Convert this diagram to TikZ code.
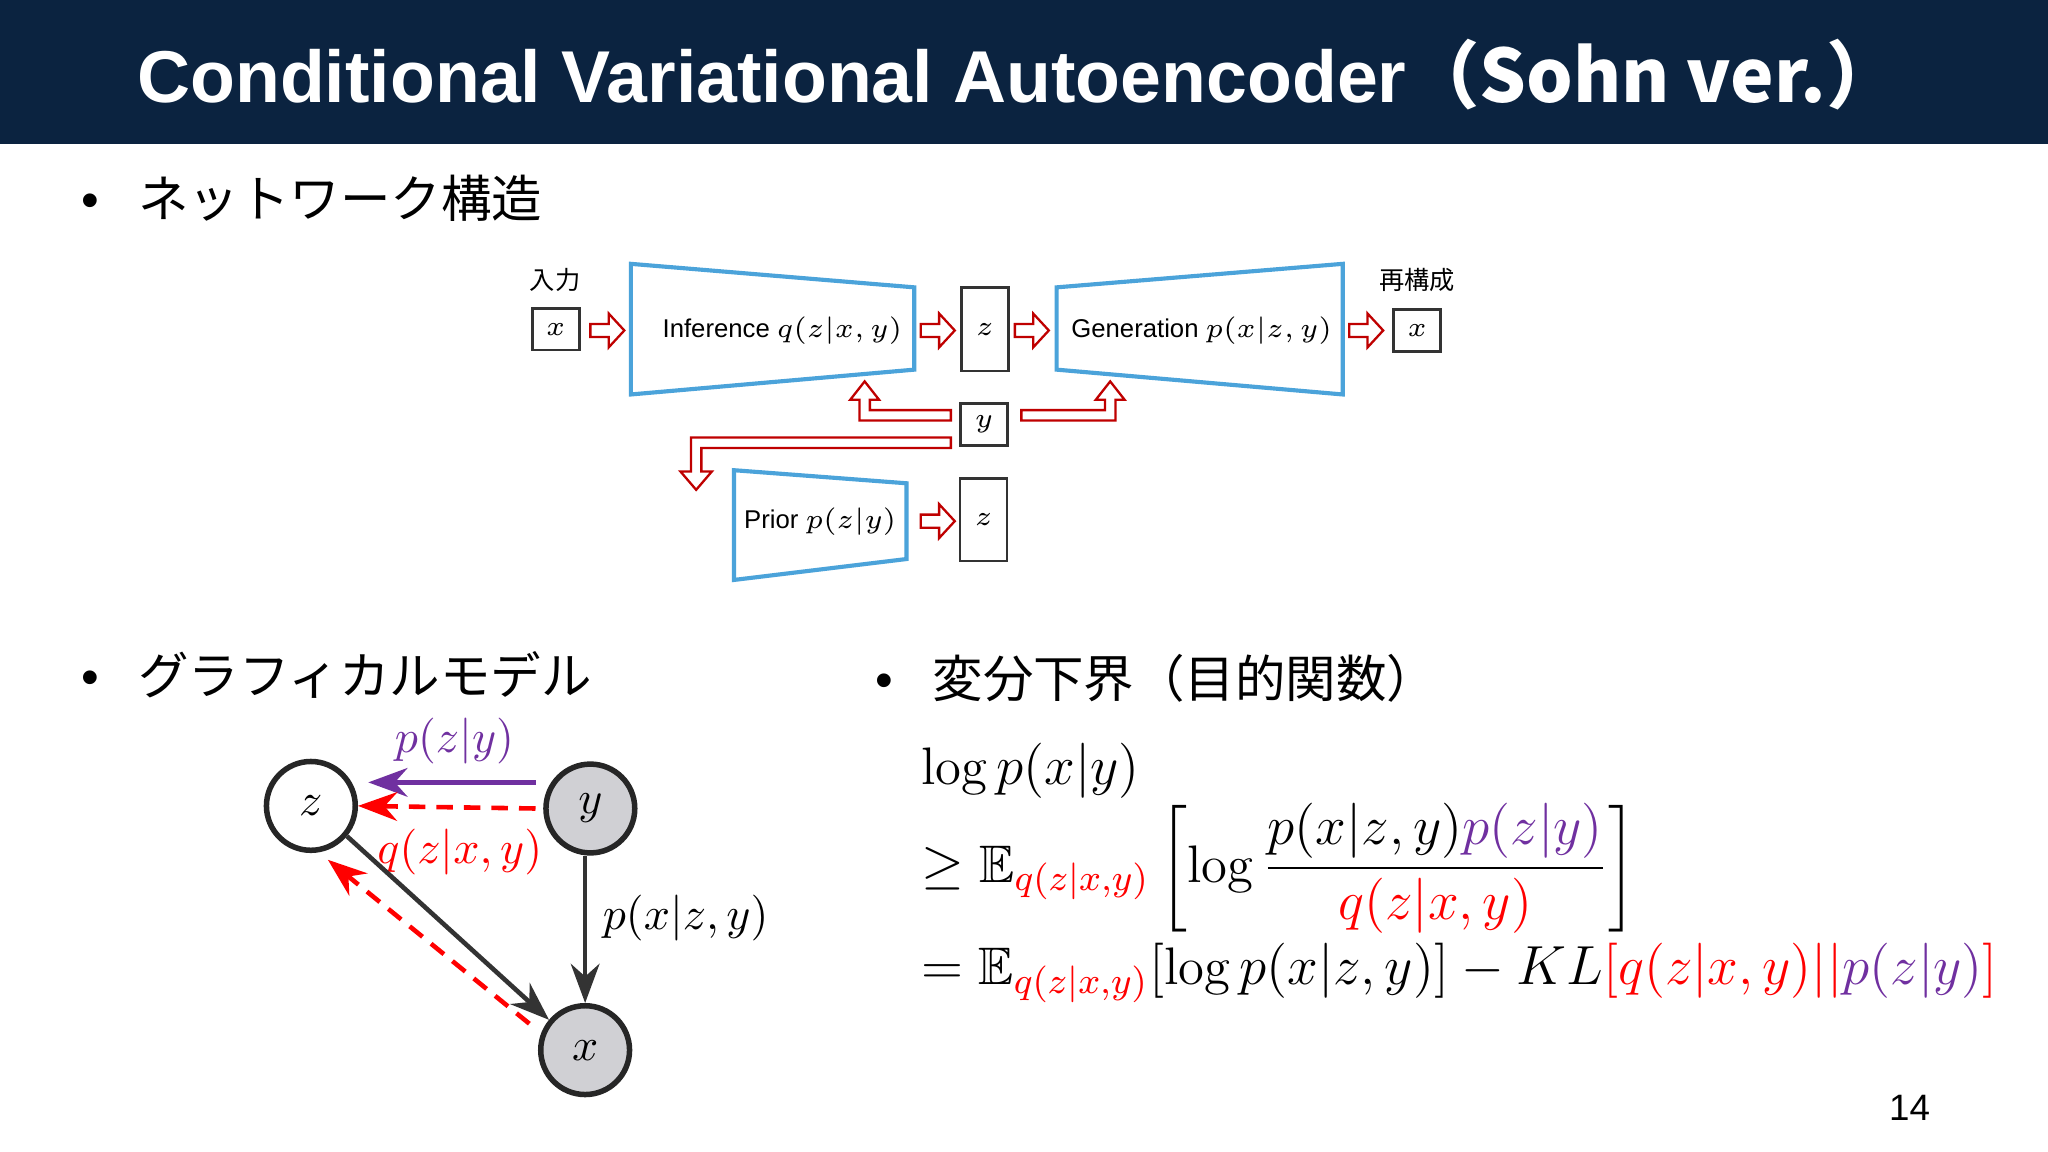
\documentclass[tikz,border=0pt]{standalone}
\usepackage{amsmath,amssymb}
\usepackage{fontspec}
\newfontfamily\sans{Liberation Sans}
\newfontfamily\jp{Noto Sans CJK JP}
\usetikzlibrary{arrows.meta,calc}
\definecolor{navy}{HTML}{0B2340}
\definecolor{pur}{HTML}{7030A0}
\definecolor{blu}{HTML}{4BA3DA}
\definecolor{gr}{HTML}{D0D0D4}
\tikzset{
 harr/.style={draw=red!75!black,fill=white,line width=0.5pt},
 trap/.style={draw=blu,line width=0.9pt},
 vbox/.style={draw=black!80,line width=0.6pt,minimum width=3.6mm,inner sep=0pt,font=\fontsize{6}{7}\selectfont},
 lbl/.style={font=\sans\fontsize{5.6}{7}\selectfont},
 circ/.style={circle,draw=black!85,line width=1.2pt,minimum size=6.8mm,inner sep=0pt,font=\fontsize{10}{12}\selectfont},
 ed/.style={-{Stealth[length=3mm,width=2.2mm]},line width=1pt},
 dsh/.style={dash pattern=on 3.6pt off 2.4pt},
}
\newcommand{\harrowat}[2]{\draw[harr] (#1-13,#2-5)--(#1+1,#2-5)--(#1+1,#2-13)--(#1+13,#2)--(#1+1,#2+13)--(#1+1,#2+5)--(#1-13,#2+5)--cycle;}
\begin{document}
\begin{tikzpicture}[x=0.1mm,y=-0.1mm]
\useasboundingbox (0,0) rectangle (1568,882);
\fill[white] (0,0) rectangle (1568,882);
\fill[navy] (0,0) rectangle (1568,110);
\node[white,font=\sans\fontsize{16}{18}\selectfont\bfseries] (title) at (780,57) {Conditional Variational Autoencoder\jp{（}Sohn ver.\jp{）}};
\node[anchor=west,font=\sans\fontsize{11}{13}\selectfont] (b1) at (50,152) {•\hspace{3mm}\jp{ネットワーク構造}};
% network
\node[lbl,font=\jp\fontsize{5.5}{7}\selectfont] (in) at (425,214) {入力};
\node[vbox,minimum height=3.2mm] (xi) at (425.5,252) {$x$};
\harrowat{465}{253}
\draw[trap] (483,202)--(700,220)--(700,283)--(483,302)--cycle;
\node[lbl] (inf) at (599,253) {Inference $q(z|x,y)$};
\harrowat{718}{253}
\node[vbox,minimum height=6.4mm] (z1) at (754,252) {$z$};
\harrowat{790}{253}
\draw[trap] (809,220)--(1028,202)--(1028,302)--(809,283)--cycle;
\node[lbl] (gen) at (920,253) {Generation $p(x|z,y)$};
\harrowat{1046}{253}
\node[vbox,minimum height=3.2mm] (xo) at (1085,253) {$x$};
\node[lbl,font=\jp\fontsize{5.5}{7}\selectfont] (re) at (1085,214) {再構成};
\node[vbox,minimum height=3.2mm] (yb) at (753.5,325) {$y$};
\draw[harr] (728,314)--(666,314)--(666,306)--(673,306)--(662,292)--(651,306)--(658,306)--(658,322)--(728,322)--cycle;
\draw[harr] (782,314)--(846,314)--(846,306)--(839,306)--(850,292)--(861,306)--(854,306)--(854,322)--(782,322)--cycle;
\draw[harr] (728,335)--(529,335)--(529,361)--(521,361)--(533,375)--(545,361)--(537,361)--(537,343)--(728,343)--cycle;
\draw[trap] (562,360)--(694,370)--(694,428)--(562,444)--cycle;
\node[lbl] (pri) at (628,399) {Prior $p(z|y)$};
\harrowat{718}{399}
\node[vbox,minimum height=6.3mm] (z2) at (753,398) {$z$};
% graphical model
\node[anchor=west,font=\sans\fontsize{11}{13}\selectfont] (b2) at (50,517) {•\hspace{3mm}\jp{グラフィカルモデル}};
\node[circ] (z) at (238,617) {$z$};
\node[circ,fill=gr] (y) at (452,619) {$y$};
\node[circ,fill=gr] (x) at (448,804) {$x$};
\draw[ed,pur] (410,599) -- (282,599);
\node[pur,font=\fontsize{10}{12}\selectfont] (l1) at (348,567) {$p(z|y)$};
\draw[ed,red,dsh] (410,619) -- (z.east);
\node[red,font=\fontsize{10}{12}\selectfont] (l2) at (352,652) {$q(z|x,y)$};
\draw[ed,black!80] ($(y.south)+(-4,0)$) -- (x.north);
\node[font=\fontsize{10}{12}\selectfont] (l3) at (525,703) {$p(x|z,y)$};
\draw[ed,black!80] (z.-40) -- (x.140);
\draw[ed,red,dsh] ($(x.155)+(-10,-5)$) -- ($(z.-60)+(-5,10)$);
% ELBO
\node[anchor=west,font=\sans\fontsize{11}{13}\selectfont] (b3) at (658,519) {•\hspace{3mm}\jp{変分下界（目的関数）}};
\node[anchor=west,font=\fontsize{11.5}{13}\selectfont] (e1) at (693,590) {$\log p(x|y)$};
\node[anchor=west,font=\fontsize{11.5}{13}\selectfont] (e2) at (693,665) {$\geq \mathbb{E}_{\color{red}q(z|x,y)}\left[\log\dfrac{p(x|z,y){\color{pur}p(z|y)}}{\color{red}q(z|x,y)}\right]$};
\node[anchor=west,font=\fontsize{11.5}{13}\selectfont] (e3) at (693,745) {$= \mathbb{E}_{\color{red}q(z|x,y)}[\log p(x|z,y)] - KL{\color{red}[q(z|x,y)||}{\color{pur}p(z|y)}{\color{red}]}$};
\node[font=\sans\fontsize{8}{10}\selectfont] (pg) at (1462,848) {14};
\end{tikzpicture}
\end{document}
